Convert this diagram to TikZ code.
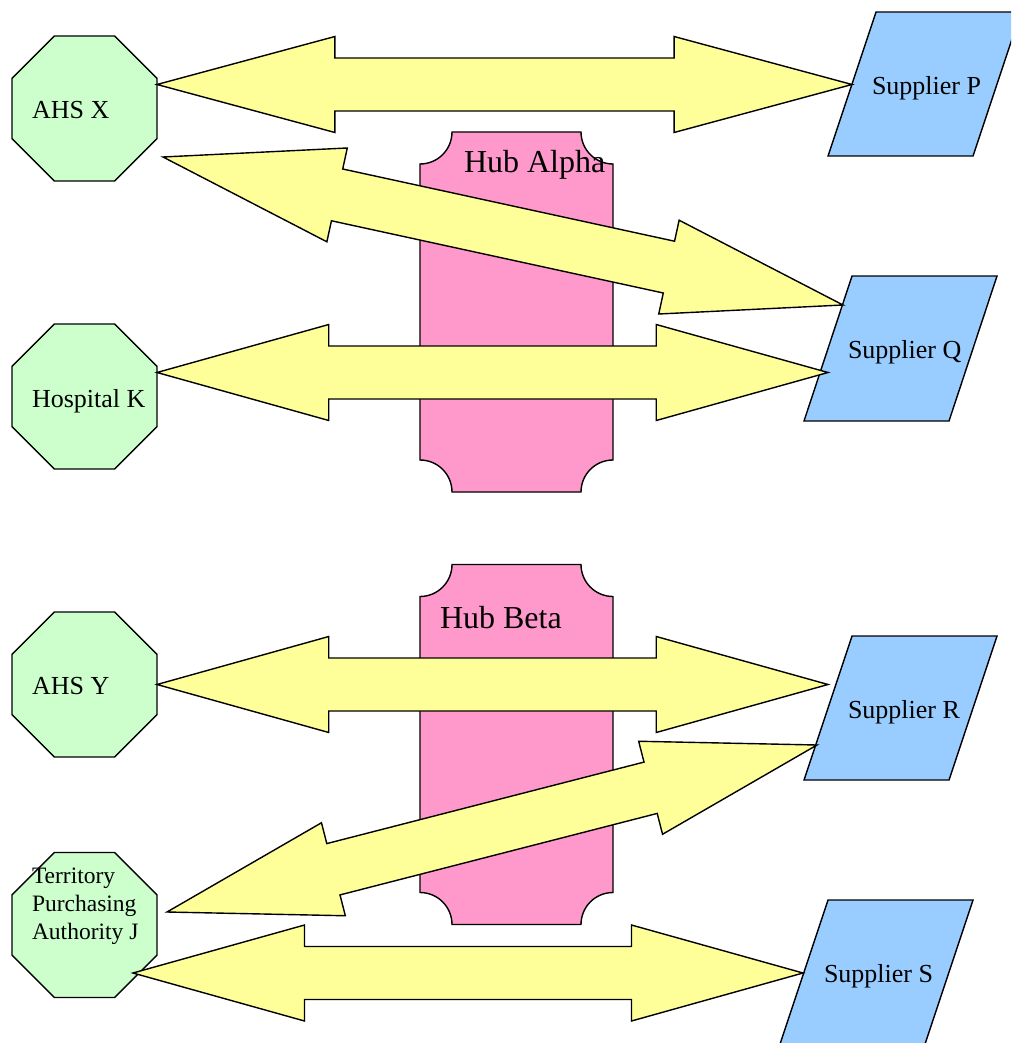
\documentclass[tikz,border=0pt]{standalone}
\usepackage{fontspec}
\setmainfont{Liberation Serif}
\usetikzlibrary{calc}
\definecolor{octfill}{HTML}{CCFFCC}
\definecolor{parfill}{HTML}{99CCFF}
\definecolor{hubfill}{HTML}{FF99CC}
\definecolor{arrfill}{HTML}{FFFF99}
\tikzset{
  outl/.style={draw=black, line width=1.4pt, line join=miter},
  octa/.style={outl, fill=octfill},
  para/.style={outl, fill=parfill},
  hub/.style={outl, fill=hubfill},
  bigarrow/.style={outl, fill=arrfill},
  lab/.style={anchor=base west, inner sep=0pt, outer sep=0pt, font=\fontsize{26}{30}\selectfont},
  smalllab/.style={anchor=base west, inner sep=0pt, outer sep=0pt, font=\fontsize{23.5}{28}\selectfont},
  hublab/.style={anchor=base west, inner sep=0pt, outer sep=0pt, font=\fontsize{32}{36}\selectfont}
}
% octagon with centre (#1,#2), flat-to-flat 145
\newcommand{\myocta}[2]{%
  \path[octa] ($(#1,#2)+(-30.03,-72.5)$) -- ++(60.06,0) -- ++(42.47,42.47) -- ++(0,60.06)
     -- ++(-42.47,42.47) -- ++(-60.06,0) -- ++(-42.47,-42.47) -- ++(0,-60.06) -- cycle;}
% parallelogram: top-left x, top y, bottom y (slant 48 over height)
\newcommand{\mypara}[3]{%
  \path[para] (#1,#2) -- ++(145,0) -- ++(-48,#3-#2) -- ++(-145,0) -- cycle;}
% double block arrow between two named tips
\newcommand{\dblarrow}[3]{%
  \coordinate (#1-ha) at ($(#2)!0.256!(#3)$);
  \coordinate (#1-hb) at ($(#3)!0.256!(#2)$);
  \path[bigarrow] (#2) -- ($(#1-ha)!48pt!90:(#3)$) -- ($(#1-ha)!26.5pt!90:(#3)$)
     -- ($(#1-hb)!26.5pt!-90:(#2)$) -- ($(#1-hb)!48pt!-90:(#2)$) -- (#3)
     -- ($(#1-hb)!48pt!90:(#2)$) -- ($(#1-hb)!26.5pt!90:(#2)$)
     -- ($(#1-ha)!26.5pt!-90:(#3)$) -- ($(#1-ha)!48pt!-90:(#3)$) -- cycle;}
\begin{document}
\begin{tikzpicture}[x=1pt, y=-1pt]
\useasboundingbox (0,0) rectangle (1011,1043);
\clip (0,0) rectangle (1011,1043);
\fill[white] (0,0) rectangle (1011,1043);

% hubs
\foreach \dy in {0,432.5}{
\begin{scope}[shift={(0,\dy)}]
\path[hub] (452,132) -- (581,132) .. controls (581,149.7) and (595.3,164) .. (613,164)
  -- (613,460) .. controls (595.3,460) and (581,474.3) .. (581,492)
  -- (452,492) .. controls (452,474.3) and (437.7,460) .. (420,460)
  -- (420,164) .. controls (437.7,164) and (452,149.7) .. (452,132) -- cycle;
\end{scope}}
\node[hublab] (hubA) at (464,172) {Hub Alpha};
\node[hublab] (hubB) at (440,628.3) {Hub Beta};

% octagons
\myocta{84.5}{108.5}
\myocta{84.5}{396.5}
\myocta{84.5}{684.5}
\myocta{84.5}{925}
\node[lab] (ahsx) at (32,119) {AHS X};
\node[lab] (hospk) at (32,407) {Hospital K};
\node[lab] (ahsy) at (32,694.3) {AHS Y};
\node[smalllab] (tpaj1) at (32,883.3) {Territory};
\node[smalllab] (tpaj2) at (32,911.3) {Purchasing};
\node[smalllab] (tpaj3) at (32,939.3) {Authority J};

% suppliers
\mypara{876}{12}{156}
\mypara{852}{276}{421}
\mypara{852}{636}{780}
\mypara{828}{900}{1044}
\node[lab] (supp) at (872,94.3) {Supplier P};
\node[lab] (supq) at (848,358.3) {Supplier Q};
\node[lab] (supr) at (848,718.3) {Supplier R};
\node[lab] (sups) at (824,982.7) {Supplier S};

% arrow tips
\coordinate (ahsxA) at (157,84.5);
\coordinate (suppA) at (852,84.5);
\coordinate (ahsxB) at (163,157);
\coordinate (supqB) at (843,305);
\coordinate (hospkA) at (157,372.5);
\coordinate (supqA) at (828,372.5);
\coordinate (ahsyA) at (157,684.5);
\coordinate (suprA) at (828,684.5);
\coordinate (tpajB) at (167,912);
\coordinate (suprB) at (817,745);
\coordinate (tpajA) at (133,973);
\coordinate (supsA) at (803,973);

\dblarrow{a1}{ahsxA}{suppA}
\dblarrow{a2}{ahsxB}{supqB}
\dblarrow{a3}{hospkA}{supqA}
\dblarrow{a4}{ahsyA}{suprA}
\dblarrow{a5}{tpajB}{suprB}
\dblarrow{a6}{tpajA}{supsA}
\end{tikzpicture}
\end{document}
